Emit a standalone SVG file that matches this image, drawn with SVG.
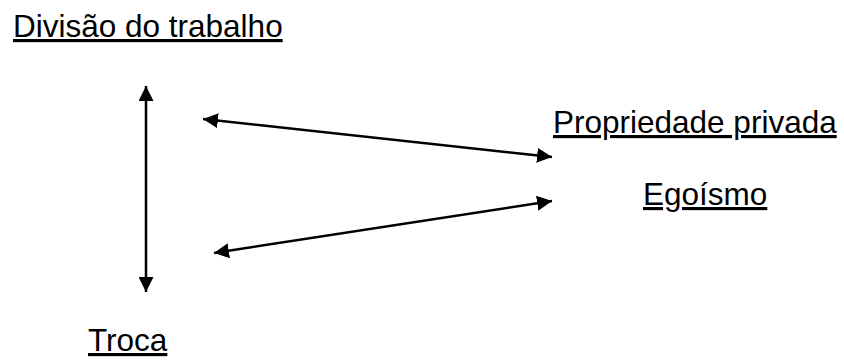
<svg xmlns="http://www.w3.org/2000/svg" width="844" height="360" viewBox="0 0 844 360">
  <style>
    .lbl { font-family: "Liberation Sans", Arial, sans-serif; font-size: 31.5px; fill: #000; text-decoration: underline; }
    .con { stroke: #000; stroke-width: 2.5; fill: none; marker-start: url(#head); marker-end: url(#head); }
  </style>
  <defs>
    <!-- filled triangular head, used at both ends of every connector -->
    <marker id="head" viewBox="0 0 10 10" refX="10" refY="5" markerWidth="6" markerHeight="6" orient="auto-start-reverse" markerUnits="strokeWidth">
      <path d="M0,0 L10,5 L0,10 z" fill="#000"/>
    </marker>
  </defs>
  <rect width="844" height="360" fill="#fff"/>

  <g id="divisao"><text class="lbl" x="13" y="37">Divisão do trabalho</text></g>
  <g id="propriedade"><text class="lbl" x="553" y="133">Propriedade privada</text></g>
  <g id="egoismo"><text class="lbl" x="643" y="205">Egoísmo</text></g>
  <g id="troca"><text class="lbl" x="88" y="351">Troca</text></g>

  <g id="connectors">
    <line class="con" x1="146" y1="86" x2="146" y2="292"/>
    <line class="con" x1="203" y1="119" x2="552" y2="157"/>
    <line class="con" x1="214" y1="253" x2="552" y2="201"/>
  </g>
</svg>
